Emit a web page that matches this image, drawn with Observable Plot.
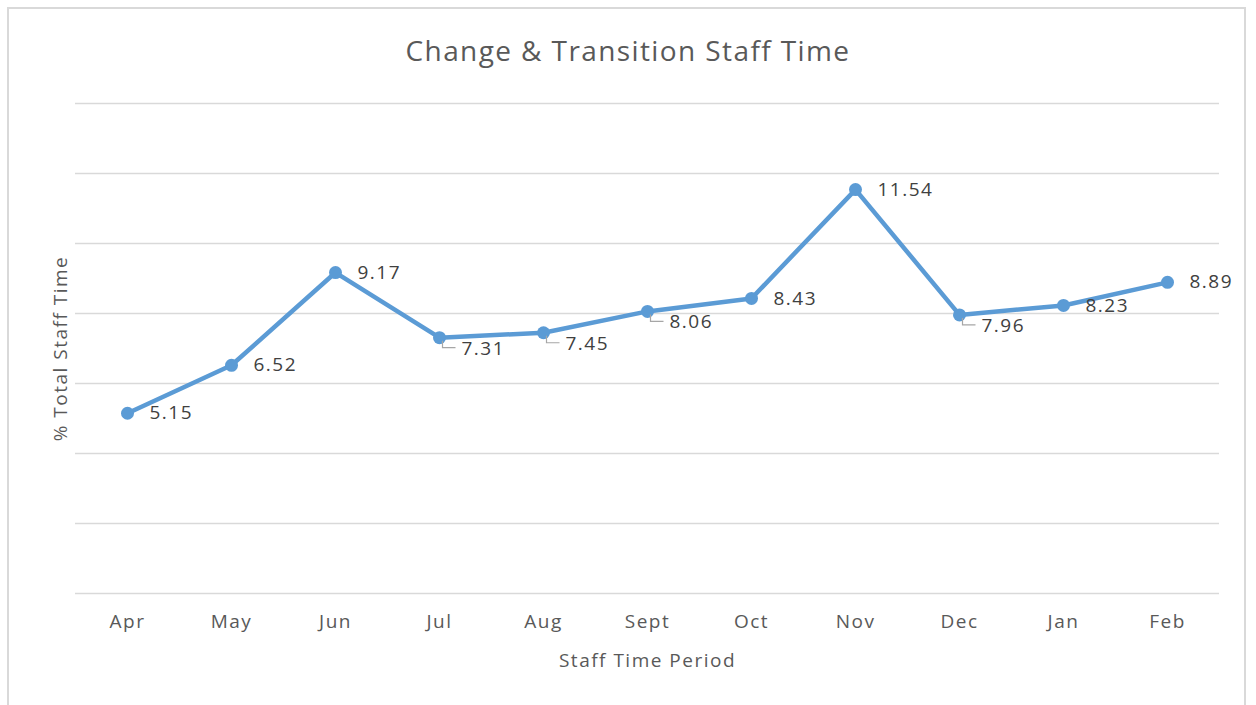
<!DOCTYPE html>
<html>
<head>
<meta charset="utf-8">
<script src="https://cdn.jsdelivr.net/npm/d3@7"></script>
<script src="https://cdn.jsdelivr.net/npm/@observablehq/plot@0.6"></script>
<style>
  html, body { margin: 0; padding: 0; background: #fff; overflow: hidden; }
  #wrap { position: relative; width: 1256px; height: 705px; }
  #frame { position: absolute; left: 7px; top: 7px; width: 1239px; height: 720px; border: 2px solid #d9d9d9; box-sizing: border-box; }
  #title { position: absolute; left: 0; width: 1256px; top: 32px; text-align: center; font-family: "Open Sans", sans-serif; font-size: 28px; letter-spacing: 1.4px; color: #595959; line-height: 36px; }
  #chart { position: absolute; left: 0; top: 0; }
</style>
</head>
<body>
<div id="wrap">
  <div id="frame"></div>
  <div id="title">Change &amp; Transition Staff Time</div>
  <div id="chart"></div>
</div>
<script>
const months = ["Apr", "May", "Jun", "Jul", "Aug", "Sept", "Oct", "Nov", "Dec", "Jan", "Feb"];
const values = [5.15, 6.52, 9.17, 7.31, 7.45, 8.06, 8.43, 11.54, 7.96, 8.23, 8.89];
const yTicks = [0, 2, 4, 6, 8, 10, 12, 14];
const calloutMonths = ["Jul", "Aug", "Sept", "Dec"];

const data = months.map((m, i) => ({month: m, value: values[i]}));
const plain = data.filter(d => !calloutMonths.includes(d.month));
const callouts = data.filter(d => calloutMonths.includes(d.month));

const leader = {
  draw(context) {
    context.moveTo(3, 3);
    context.lineTo(3, 10);
    context.lineTo(16, 10);
  }
};

const font = "'Open Sans', sans-serif";

const chart = Plot.plot({
  width: 1256,
  height: 705,
  marginTop: 103,
  marginRight: 37,
  marginBottom: 112,
  marginLeft: 75,
  style: {fontFamily: font, background: "transparent", color: "#595959", letterSpacing: "1.5px"},
  x: {type: "point", domain: months, padding: 0.5, label: null, axis: null},
  y: {domain: [0, 14], label: null, axis: null},
  marks: [
    Plot.gridY(yTicks, {stroke: "#d9d9d9", strokeOpacity: 1, strokeWidth: 1.3}),
    Plot.axisX({tickSize: 0, tickPadding: 21, fontSize: 19, fill: "#595959", label: null}),
    Plot.text(["% Total Staff Time"], {frameAnchor: "left", textAnchor: "middle", lineAnchor: "middle", rotate: -90, dx: -15, fontSize: 19, fill: "#595959"}),
    Plot.text(["Staff Time Period"], {frameAnchor: "bottom", textAnchor: "middle", lineAnchor: "middle", dy: 67, fontSize: 19, fill: "#595959"}),
    Plot.line(data, {x: "month", y: "value", stroke: "#5b9bd5", strokeWidth: 4.5, strokeLinejoin: "round"}),
    Plot.dot(data, {x: "month", y: "value", r: 6.5, fill: "#5b9bd5"}),
    Plot.dot(callouts, {x: "month", y: "value", symbol: leader, stroke: "#a6a6a6", fill: "none", strokeWidth: 1.2}),
    Plot.text(plain, {x: "month", y: "value", text: d => d.value.toFixed(2), dx: 22, textAnchor: "start", fontSize: 19, fill: "#404040"}),
    Plot.text(callouts, {x: "month", y: "value", text: d => d.value.toFixed(2), dx: 22, dy: 11, textAnchor: "start", fontSize: 19, fill: "#404040"})
  ]
});
document.getElementById("chart").appendChild(chart);
</script>
</body>
</html>
